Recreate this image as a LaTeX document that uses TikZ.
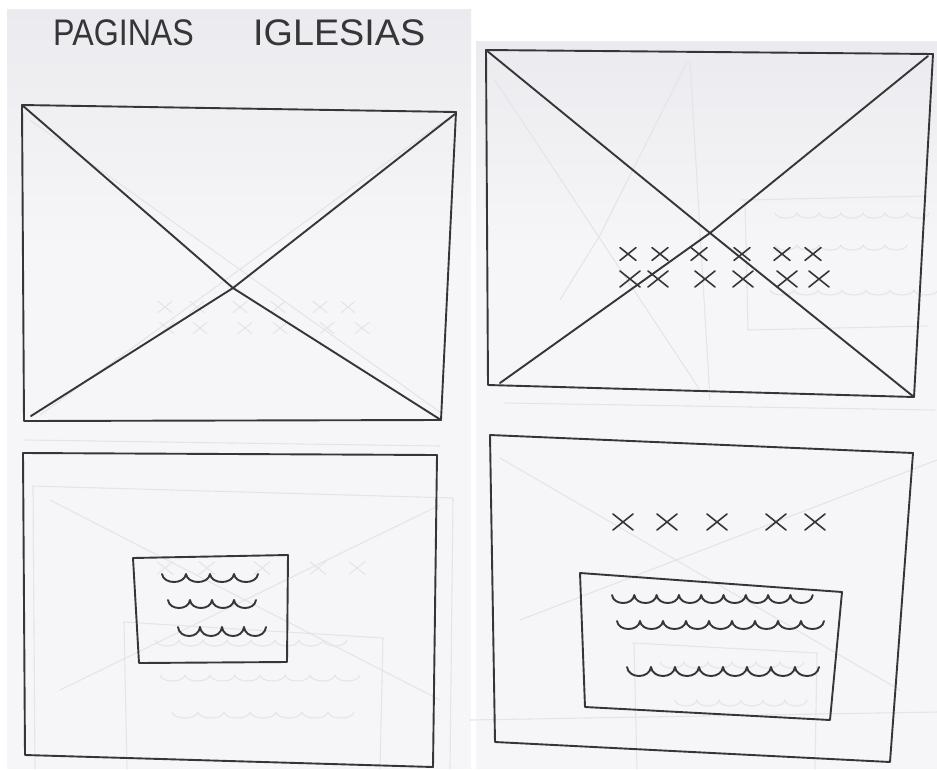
\documentclass[tikz,border=0pt]{standalone}
\usepackage{fontspec}
\setmainfont{Liberation Sans}
\definecolor{penc}{HTML}{363638}
\definecolor{ghostc}{HTML}{E5E5E9}
\definecolor{pagec}{HTML}{F6F6F8}
\definecolor{pagetop}{HTML}{EBEBEF}
\newcommand\wavyrow[6][pen]{% style, x0, y, n, w, depth
  \draw[#1] (#2,#3) \foreach \k in {1,...,#4}{ .. controls ({#2+(\k-1)*#5+0.06*#5},{#3+#6/0.75}) and ({#2+\k*#5-0.06*#5},{#3+#6/0.75}) .. ({#2+\k*#5},{#3}) };}
\newcommand\crossmk[4][pen]{% style, x, y, half size
  \draw[#1] (#2-#4,#3-0.8*#4) -- (#2+#4,#3+0.8*#4) (#2-#4,#3+0.8*#4) -- (#2+#4,#3-0.8*#4);}
\begin{document}
\begin{tikzpicture}[x=1pt,y=-1pt,
  pen/.style={draw=penc, line width=1.9pt, line cap=round, line join=round},
  thinpen/.style={draw=penc, line width=1.6pt, line cap=round, line join=round},
  ghost/.style={draw=ghostc, line width=1.1pt, line cap=round, line join=round},
  titletext/.style={font=\fontsize{37}{40}\selectfont, text=penc, inner sep=0pt, anchor=base west}]
\useasboundingbox (0,0) rectangle (937,769);
\fill[white] (0,0) rectangle (937,769);
% paper sheets
\shade[top color=pagetop, bottom color=pagec] (7,9) rectangle (471,250);
\fill[pagec] (7,249) rectangle (471,769);
\shade[top color=pagetop, bottom color=pagec] (476,41) rectangle (937,250);
\fill[pagec] (476,249) rectangle (937,769);

% title
\node[titletext] (t1) at (53,45) {\scalebox{0.87}[1]{PAGINAS}};
\node[titletext] (t2) at (253,45) {\scalebox{1.02}[1]{IGLESIAS}};

% ---------- ghost (bleed-through) marks ----------
% top-left sheet
\foreach \x/\y in {165/307,197/307,240/307,278/307,320/307,348/307,167/328,200/328,245/328,280/328,327/328,362/328}
  {\crossmk[ghost]{\x}{\y}{7}}
\draw[ghost] (30,120) -- (440,412);
\draw[ghost] (445,120) -- (40,415);
\draw[ghost] (25,440) -- (440,446);
% top-right sheet
\draw[ghost] (742,200) -- (927,196) (745,200) -- (748,330) -- (927,326);
\wavyrow[ghost]{775}{213}{7}{22}{5}
\wavyrow[ghost]{775}{245}{6}{22}{5}
\wavyrow[ghost]{770}{290}{7}{24}{5}
\draw[ghost] (687,62) -- (600,235) -- (560,300);
\draw[ghost] (690,62) -- (710,400);
\draw[ghost] (495,80) -- (700,390);
\draw[ghost] (505,403) -- (935,410);
% bottom-left sheet
\draw[ghost] (32,486) -- (453,498) -- (450,769);
\draw[ghost] (33,487) -- (35,769);
\draw[ghost] (50,500) -- (440,700);
\draw[ghost] (440,505) -- (60,690);
\foreach \x/\y in {165/568,207/568,262/568,318/568,357/568}
  {\crossmk[ghost]{\x}{\y}{8}}
\draw[ghost] (123,622) -- (383,638) -- (380,769) (124,622) -- (127,769);
\wavyrow[ghost]{155}{640}{8}{24}{6}
\wavyrow[ghost]{160}{675}{8}{25}{6}
\wavyrow[ghost]{172}{712}{7}{26}{6}
% bottom-right sheet
\draw[ghost] (500,458) -- (900,690);
\draw[ghost] (937,460) -- (520,620);
\draw[ghost] (633,643) -- (817,653) -- (815,769) (634,643) -- (637,769);
\wavyrow[ghost]{660}{662}{6}{24}{6}
\wavyrow[ghost]{675}{700}{6}{22}{6}
\draw[ghost] (470,720) -- (937,712);

% ---------- top-left frame (image placeholder) ----------
\coordinate (a1) at (22,105);
\coordinate (b1) at (456,112);
\coordinate (c1) at (441,420);
\coordinate (d1) at (24,421);
\draw[pen] (a1) -- (b1) -- (c1) -- (d1) -- cycle;
\draw[pen] (a1) -- (233,288) -- (c1);
\draw[pen] (455,114) -- (233,288) -- (31,416);

% ---------- top-right frame ----------
\coordinate (a2) at (486,50);
\coordinate (b2) at (933,54);
\coordinate (c2) at (914,397);
\coordinate (d2) at (488,385);
\draw[pen] (a2) -- (b2) -- (c2) -- (d2) -- cycle;
\coordinate (m2) at (710,233);
\draw[pen] (a2) -- (m2) -- (c2);
\draw[pen] (928,56) -- (m2) -- (500,383);
\foreach \x in {628,660,699,742,782,813} {\crossmk[thinpen]{\x}{254}{8}}
\foreach \x in {630,658,705,743,787,819} {\crossmk[thinpen]{\x}{279}{10}}

% ---------- bottom-left frame ----------
\coordinate (a3) at (23,453);
\coordinate (b3) at (437,455);
\coordinate (c3) at (433,767);
\coordinate (d3) at (25,755);
\draw[pen] (a3) -- (b3) -- (c3) -- (d3) -- cycle;
\coordinate (p3) at (133,558);
\coordinate (q3) at (288,555);
\coordinate (r3) at (287,662);
\coordinate (s3) at (139,663);
\draw[pen] (p3) -- (q3) -- (r3) -- (s3) -- cycle;
\wavyrow{162}{574}{4}{24}{8}
\wavyrow{168}{600}{4}{22}{8}
\wavyrow{178}{627}{4}{22}{9}

% ---------- bottom-right frame ----------
\coordinate (a4) at (490,435);
\coordinate (b4) at (913,453);
\coordinate (c4) at (890,762);
\coordinate (d4) at (495,742);
\draw[pen] (a4) -- (b4) -- (c4) -- (d4) -- cycle;
\foreach \x in {623,667,717,776,815} {\crossmk[thinpen]{\x}{522}{10}}
\coordinate (p4) at (580,573);
\coordinate (q4) at (842,592);
\coordinate (r4) at (830,720);
\coordinate (s4) at (585,707);
\draw[pen] (p4) -- (q4) -- (r4) -- (s4) -- cycle;
\wavyrow{612}{595}{9}{22.3}{8}
\wavyrow{617}{621}{9}{23}{8}
\wavyrow{627}{667}{8}{24}{9}
\end{tikzpicture}
\end{document}
